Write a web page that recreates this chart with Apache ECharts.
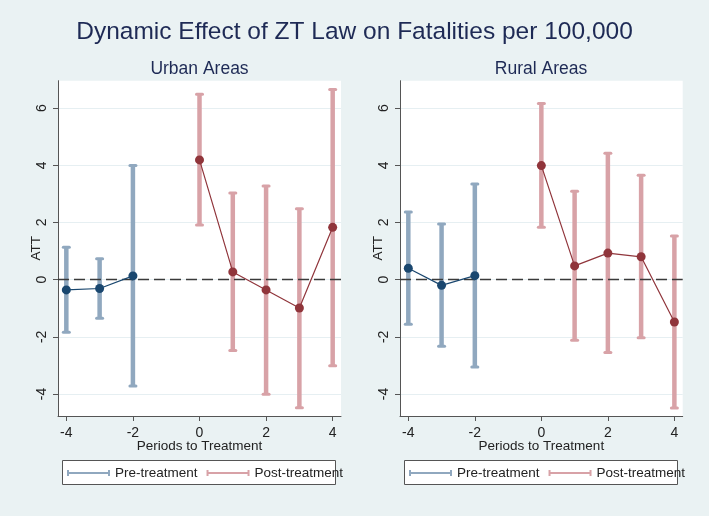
<!DOCTYPE html>
<html>
<head>
<meta charset="utf-8">
<script src="https://cdn.jsdelivr.net/npm/echarts@6/dist/echarts.min.js"></script>
<style>
  html, body { margin: 0; padding: 0; background: #eaf2f3; }
  #main { width: 709px; height: 516px; }
</style>
</head>
<body>
<div id="main"></div>
<script>
// periods relative to treatment
const prePeriods = [-4, -3, -2];
const postPeriods = [0, 1, 2, 3, 4];

// Urban areas: estimate and 95% CI
const urbanPreAtt = [-0.36, -0.31, 0.13];
const urbanPreLow = [-1.84, -1.35, -3.72];
const urbanPreHigh = [1.13, 0.73, 3.99];
const urbanPostAtt = [4.19, 0.27, -0.36, -0.99, 1.83];
const urbanPostLow = [1.91, -2.48, -4.01, -4.48, -3.01];
const urbanPostHigh = [6.49, 3.03, 3.28, 2.48, 6.65];

// Rural areas
const ruralPreAtt = [0.40, -0.20, 0.14];
const ruralPreLow = [-1.56, -2.33, -3.06];
const ruralPreHigh = [2.37, 1.95, 3.35];
const ruralPostAtt = [3.99, 0.48, 0.93, 0.80, -1.48];
const ruralPostLow = [1.83, -2.12, -2.55, -2.03, -4.49];
const ruralPostHigh = [6.16, 3.09, 4.42, 3.65, 1.53];

const xTicks = [-4, -2, 0, 2, 4];
const yTicks = [-4, -2, 0, 2, 4, 6];

const preCiColor = '#90a8bf';
const postCiColor = '#d8a2a7';
const preDotColor = '#1a476f';
const postDotColor = '#90353b';
const font = "'Liberation Sans', Arial, sans-serif";

function ciRows(xs, lo, hi) {
    return xs.map((x, i) => [x, lo[i], hi[i]]);
}
function attRows(xs, att) {
    return xs.map((x, i) => [x, att[i]]);
}

// error bar: thick translucent stick with short caps
function renderCi(params, api) {
    const x = api.value(0);
    const top = api.coord([x, api.value(2)]);
    const bot = api.coord([x, api.value(1)]);
    const color = api.visual('color');
    const capStyle = { stroke: color, lineWidth: 3, lineCap: 'round' };
    return {
        type: 'group',
        children: [
            { type: 'line', shape: { x1: top[0], y1: top[1], x2: bot[0], y2: bot[1] },
              style: { stroke: color, lineWidth: 4.5 } },
            { type: 'line', shape: { x1: top[0] - 3, y1: top[1], x2: top[0] + 3, y2: top[1] }, style: capStyle },
            { type: 'line', shape: { x1: bot[0] - 3, y1: bot[1], x2: bot[0] + 3, y2: bot[1] }, style: capStyle }
        ]
    };
}

function panelSeries(idx, preLow, preHigh, preAtt, postLow, postHigh, postAtt) {
    return [
        {
            name: 'Pre-treatment', type: 'custom', xAxisIndex: idx, yAxisIndex: idx,
            renderItem: renderCi, itemStyle: { color: preCiColor },
            encode: { x: 0, y: [1, 2] },
            data: ciRows(prePeriods, preLow, preHigh),
            markLine: {
                silent: true, symbol: ['none', 'none'], label: { show: false },
                lineStyle: { color: '#3a3a3a', width: 1.4, type: [11, 5] },
                data: [{ yAxis: 0 }]
            }
        },
        {
            name: 'Post-treatment', type: 'custom', xAxisIndex: idx, yAxisIndex: idx,
            renderItem: renderCi, itemStyle: { color: postCiColor },
            encode: { x: 0, y: [1, 2] },
            data: ciRows(postPeriods, postLow, postHigh)
        },
        {
            name: 'pre-att', type: 'line', xAxisIndex: idx, yAxisIndex: idx, z: 5,
            symbol: 'circle', symbolSize: 9,
            itemStyle: { color: preDotColor },
            lineStyle: { color: preDotColor, width: 1.2 },
            data: attRows(prePeriods, preAtt)
        },
        {
            name: 'post-att', type: 'line', xAxisIndex: idx, yAxisIndex: idx, z: 5,
            symbol: 'circle', symbolSize: 9,
            itemStyle: { color: postDotColor },
            lineStyle: { color: postDotColor, width: 1.2 },
            data: attRows(postPeriods, postAtt)
        }
    ];
}

function xAxisCfg(idx) {
    return {
        type: 'value', gridIndex: idx, min: -4.25, max: 4.25,
        name: 'Periods to Treatment', nameLocation: 'middle', nameGap: 23, nameMoveOverlap: false,
        nameTextStyle: { fontFamily: font, fontSize: 13.5, color: '#222' },
        axisLine: { show: true, onZero: false, lineStyle: { color: '#555' } },
        axisTick: { show: true, length: 5, customValues: xTicks, lineStyle: { color: '#555' } },
        axisLabel: { customValues: xTicks, margin: 10, fontFamily: font, fontSize: 14, color: '#222' },
        splitLine: { show: false }
    };
}

function yAxisCfg(idx) {
    return {
        type: 'value', gridIndex: idx, min: -4.77, max: 6.96,
        name: 'ATT', nameLocation: 'middle', nameGap: 15, nameMoveOverlap: false,
        nameTextStyle: { fontFamily: font, fontSize: 13.5, color: '#222' },
        axisLine: { show: true, onZero: false, lineStyle: { color: '#555' } },
        axisTick: { show: true, length: 5, customValues: yTicks, lineStyle: { color: '#555' } },
        axisLabel: { customValues: yTicks, rotate: 90, margin: 9, fontFamily: font, fontSize: 14, color: '#222' },
        splitLine: { show: true, lineStyle: { color: '#e6eff2', width: 1 } }
    };
}

function legendCfg(left) {
    return {
        left: left, top: 466, padding: 0, itemGap: 9,
        itemWidth: 43, itemHeight: 6,
        icon: 'path://M0,2 L43,2 L43,4 L0,4 Z M0,0 L2,0 L2,6 L0,6 Z M41,0 L43,0 L43,6 L41,6 Z',
        itemStyle: { borderWidth: 0 },
        textStyle: { fontFamily: font, fontSize: 13.5, color: '#222' },
        data: ['Pre-treatment', 'Post-treatment'],
        z: 5
    };
}

const option = {
    backgroundColor: '#eaf2f3',
    animation: false,
    title: {
        text: 'Dynamic Effect of ZT Law on Fatalities per 100,000',
        left: 'center', top: 15,
        textStyle: { fontFamily: font, fontSize: 24.5, fontWeight: 'normal', color: '#1e2a55' }
    },
    graphic: [
        { type: 'text', x: 199.5, y: 69, style: { text: 'Urban Areas', textAlign: 'center', textVerticalAlign: 'middle', font: '17.5px ' + font, fill: '#1e2a55' } },
        { type: 'text', x: 541, y: 69, style: { text: 'Rural Areas', textAlign: 'center', textVerticalAlign: 'middle', font: '17.5px ' + font, fill: '#1e2a55' } },
        { type: 'rect', z: 0, shape: { x: 62.5, y: 460.5, width: 273, height: 24 }, style: { fill: '#fff', stroke: '#555', lineWidth: 1 } },
        { type: 'rect', z: 0, shape: { x: 404.5, y: 460.5, width: 273, height: 24 }, style: { fill: '#fff', stroke: '#555', lineWidth: 1 } }
    ],
    legend: [legendCfg(67), legendCfg(409)],
    grid: [
        { left: 58, top: 80.7, width: 283, height: 335.3, show: true, backgroundColor: '#fff', borderWidth: 0 },
        { left: 400, top: 80.7, width: 282.7, height: 335.3, show: true, backgroundColor: '#fff', borderWidth: 0 }
    ],
    xAxis: [xAxisCfg(0), xAxisCfg(1)],
    yAxis: [yAxisCfg(0), yAxisCfg(1)],
    series: [].concat(
        panelSeries(0, urbanPreLow, urbanPreHigh, urbanPreAtt, urbanPostLow, urbanPostHigh, urbanPostAtt),
        panelSeries(1, ruralPreLow, ruralPreHigh, ruralPreAtt, ruralPostLow, ruralPostHigh, ruralPostAtt)
    )
};

const chart = echarts.init(document.getElementById('main'));
chart.setOption(option);
</script>
</body>
</html>
